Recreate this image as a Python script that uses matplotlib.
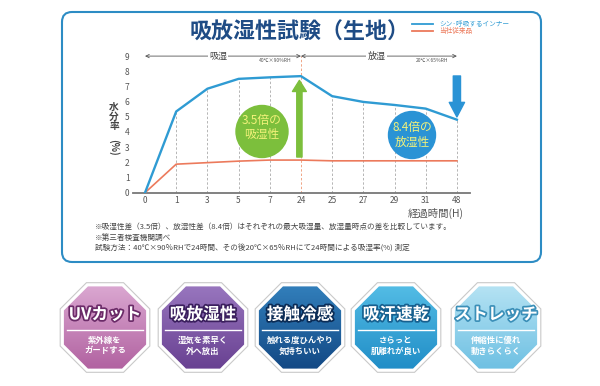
"""Moisture absorption / release test chart with feature badges"""

import numpy as np
import matplotlib
matplotlib.use("Agg")
from matplotlib import pyplot as plt
from matplotlib import patches, patheffects
from matplotlib.colors import LinearSegmentedColormap

plt.rcParams["font.family"] = ["Noto Sans CJK JP", "DejaVu Sans"]

# elapsed hours (categorical axis) and moisture content (%)
hours = ["0", "1", "3", "5", "7", "24", "25", "27", "29", "31", "48"]
shin_inner = [0, 5.35, 6.85, 7.5, 7.6, 7.68, 6.36, 5.98, 5.78, 5.54, 4.81]
conventional = [0, 1.88, 1.98, 2.08, 2.15, 2.15, 2.1, 2.1, 2.1, 2.1, 2.1]
y_ticks = list(range(10))
series_labels = ["シン·呼吸するインナー", "当社従来品"]

badge_titles = ["UVカット", "吸放湿性", "接触冷感", "吸汗速乾", "ストレッチ"]
badge_lines = [
    ("紫外線を", "ガードする"),
    ("湿気を素早く", "外へ放出"),
    ("触れる度ひんやり", "気持ちいい"),
    ("さらっと", "肌離れが良い"),
    ("伸縮性に優れ", "動きらくらく"),
]
badge_colors = [
    ("#dcaad3", "#b0609f", "#6b2b68"),
    ("#9a78c0", "#673f90", "#3b1f5e"),
    ("#3381bd", "#124783", "#0b2c56"),
    ("#55bee6", "#1f8cc6", "#17608f"),
    ("#b8e4f4", "#6cbfe2", "#3b8fb8"),
]

W, H = 600, 386
BLUE = "#2f9bd3"
ORANGE = "#ec7a5c"
GREEN = "#7cbf3c"

fig = plt.figure(figsize=(W / 100, H / 100), dpi=100)

# pixel overlay for frame, text and badges
fa = fig.add_axes([0, 0, 1, 1], zorder=0)

frame = patches.FancyBboxPatch((62, 12), 479, 250, boxstyle="round,pad=0,rounding_size=10",
                               fc="white", ec="#2d8cc4", lw=1.5)
fa.add_patch(frame)

fa.text(300, 32, "吸放湿性試験（生地）", fontsize=15.8, weight="bold", color="#1f4c85",
        ha="center", va="center")

# legend
fa.plot([412, 433], [24, 24], color=BLUE, lw=1.3)
fa.plot([412, 433], [30.5, 30.5], color=ORANGE, lw=1.3)
fa.text(439, 24, series_labels[0], fontsize=4.8, color=BLUE, va="center")
fa.text(439, 30.5, series_labels[1], fontsize=4.8, color=ORANGE, va="center")

# y label, vertical writing
for ch, yy in zip("水分率", [107, 116.5, 126]):
    fa.text(114, yy, ch, fontsize=7, weight="bold", color="#444", ha="center", va="center")
fa.text(114, 147, "(%)", fontsize=7, weight="bold", color="#444", ha="center", va="center",
        rotation=-90)

fa.text(436, 213, "経過時間(H)", fontsize=7.5, color="#555", ha="center", va="center")

notes = [
    "※吸湿性差（3.5倍）、放湿性差（8.4倍）はそれぞれの最大吸湿量、放湿量時点の差を比較しています。",
    "※第三者検査機関調べ",
    "試験方法：40℃×90％RHで24時間、その後20℃×65％RHにて24時間による吸湿率(%) 測定",
]
for txt, yy in zip(notes, [227, 238, 249]):
    fa.text(95, yy, txt, fontsize=5.5, color="#444", va="center")


def octagon(cx, cy, r):
    ang = np.deg2rad(22.5 + 45 * np.arange(8))
    return np.column_stack([cx + r * np.cos(ang), cy + r * np.sin(ang)])


grad = np.linspace(0, 1, 120).reshape(-1, 1)
cy = 327.5
for cx, title, lines, (c_top, c_bot, c_dark) in zip([105, 203, 300, 396, 496], badge_titles,
                                                     badge_lines, badge_colors):
    fa.add_patch(patches.Polygon(octagon(cx, cy, 48.5), fc="white", ec="#c9c9c9", lw=0.8, zorder=1))
    inner = patches.Polygon(octagon(cx, cy, 44.5), fc="none", ec="none", zorder=2)
    fa.add_patch(inner)
    cmap = LinearSegmentedColormap.from_list("b", [c_top, c_bot])
    im = fa.imshow(grad, cmap=cmap, extent=[cx - 45, cx + 45, cy + 45, cy - 45], aspect="auto",
                   zorder=2)
    im.set_clip_path(inner)
    t = fa.text(cx, cy - 13, title, fontsize=12, weight="bold", color="white", ha="center",
                va="center", zorder=4)
    t.set_path_effects([patheffects.withStroke(linewidth=2.5, foreground=c_dark)])
    fa.plot([cx - 38, cx + 38], [cy + 2, cy + 2], color="white", lw=1, zorder=4)
    for ln, dy in zip(lines, [13, 23.5]):
        fa.text(cx, cy + dy, ln, fontsize=6, weight="bold", color="white", ha="center",
                va="center", zorder=4)

fa.set_xlim(0, W)
fa.set_ylim(H, 0)
fa.axis("off")

# chart axes
x0, x1, ybot, ytop = 133, 470, 192.7, 48.5
ax = fig.add_axes([x0 / W, 1 - ybot / H, (x1 - x0) / W, (ybot - ytop) / H], zorder=1)
ax.patch.set_alpha(0)
idx = np.arange(len(hours))

for i in idx[1:]:
    if hours[i] == "24":
        ax.plot([i, i], [0, 9], color="#f0a585", ls=(0, (2.5, 2)), lw=0.7, zorder=1)
    else:
        ax.plot([i, i], [0, shin_inner[i]], color="#b5b5b5", ls=(0, (2.5, 2)), lw=0.7, zorder=1)

ax.plot(idx, conventional, color=ORANGE, lw=1.2, zorder=3)
ax.plot(idx, shin_inner, color=BLUE, lw=1.7, zorder=4)

# phase arrows along the top
arrow_kw = dict(arrowstyle="<->", lw=0.6, color="#555", shrinkA=0, shrinkB=0, mutation_scale=6)
ax.annotate("", xy=(0, 9), xytext=(5, 9), arrowprops=arrow_kw)
ax.annotate("", xy=(5, 9), xytext=(10, 9), arrowprops=arrow_kw)
for xx, txt in [(2.34, "吸湿"), (7.43, "放湿")]:
    ax.text(xx, 9, txt, fontsize=6.5, color="#444", ha="center", va="center",
            bbox=dict(fc="white", ec="none", pad=1))
ax.text(4.17, 8.74, "40℃×90%RH", fontsize=3.6, color="#555", ha="center", va="center")
ax.text(9.2, 8.74, "20℃×65%RH", fontsize=3.6, color="#555", ha="center", va="center")

ax.annotate("", xy=(4.95, 7.4), xytext=(4.95, 2.35),
            arrowprops=dict(arrowstyle="simple,head_length=0.8,head_width=1.0,tail_width=0.38",
                            mutation_scale=10, color=GREEN, shrinkA=0, shrinkB=0), zorder=5)
ax.annotate("", xy=(10, 4.99), xytext=(10, 7.69),
            arrowprops=dict(arrowstyle="simple,head_length=1.05,head_width=1.1,tail_width=0.52",
                            mutation_scale=10, color="#2a93d5", shrinkA=0, shrinkB=0), zorder=5)

ax.set_xlim(-0.385, 10.42)
ax.set_ylim(0, 9.5)
ax.set_xticks(idx)
ax.set_xticklabels(hours)
ax.set_yticks(y_ticks)
ax.tick_params(length=0, labelsize=6, labelcolor="#555", pad=2.5)
for side in ["top", "right", "left"]:
    ax.spines[side].set_visible(False)
ax.spines["bottom"].set_color("#777")
ax.spines["bottom"].set_linewidth(1.3)

# callout bubbles on top
ft = fig.add_axes([0, 0, 1, 1], zorder=2)
ft.patch.set_alpha(0)
ft.add_patch(patches.Circle((262, 131.5), 26, color=GREEN))
ft.add_patch(patches.Circle((412, 135), 23.5, color="#2a93d5"))
for (xx, yy), txt in [((262, 120.5), "3.5倍の"), ((262, 134.5), "吸湿性"),
                      ((412, 128), "8.4倍の"), ((412, 142), "放湿性")]:
    ft.text(xx, yy, txt, fontsize=8.5, color="#f3f27a", ha="center", va="center")
ft.set_xlim(0, W)
ft.set_ylim(H, 0)
ft.axis("off")

plt.savefig("out.png", dpi=100)
